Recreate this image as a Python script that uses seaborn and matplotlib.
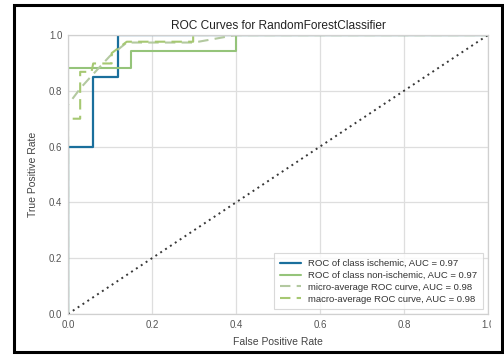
import numpy as np
import pandas as pd
import seaborn as sns
import matplotlib
matplotlib.use("Agg")
import matplotlib.pyplot as plt
from matplotlib.patches import Rectangle

# ---- data ----
isch_fpr = [0.0, 0.0, 0.059, 0.059, 0.118, 0.118, 1.0]
isch_tpr = [0.0, 0.60, 0.60, 0.85, 0.85, 1.0, 1.0]

non_fpr = [0.0, 0.0, 0.15, 0.15, 0.40, 0.40, 1.0]
non_tpr = [0.0, 0.882, 0.882, 0.941, 0.941, 1.0, 1.0]

micro_fpr = [0.0, 0.0, 0.03, 0.06, 0.10, 0.14, 0.30, 0.40, 1.0]
micro_tpr = [0.0, 0.75, 0.81, 0.86, 0.925, 0.973, 0.973, 1.0, 1.0]

macro_fpr = [0.0, 0.0, 0.029, 0.029, 0.056, 0.060, 0.104, 0.104, 0.14, 0.298, 0.298, 1.0]
macro_tpr = [0.0, 0.70, 0.70, 0.868, 0.868, 0.898, 0.898, 0.935, 0.976, 0.976, 1.0, 1.0]

labels = ["ROC of class ischemic, AUC = 0.97",
          "ROC of class non-ischemic, AUC = 0.97",
          "micro-average ROC curve, AUC = 0.98",
          "macro-average ROC curve, AUC = 0.98"]
ticks = [0.0, 0.2, 0.4, 0.6, 0.8, 1.0]

sns.set_theme(style="whitegrid")
plt.rcParams['font.family'] = ['Liberation Sans', 'DejaVu Sans']

fig = plt.figure(figsize=(5.04, 3.58), dpi=100)
ax = fig.add_axes([0.1349, 0.1229, 0.8333, 0.7793])

curves = [
    (isch_fpr, isch_tpr, labels[0], "#1a6f9c", "-", 1.6),
    (non_fpr, non_tpr, labels[1], "#95c47a", "-", 1.5),
    (micro_fpr, micro_tpr, labels[2], "#b3c9a0", (0, (5, 3)), 1.5),
    (macro_fpr, macro_tpr, labels[3], "#a6c872", (0, (5, 3)), 1.5),
]
for fx, fy, lab, col, ls, lw in curves:
    df = pd.DataFrame({"fpr": fx, "tpr": fy})
    sns.lineplot(data=df, x="fpr", y="tpr", ax=ax, sort=False, estimator=None,
                 color=col, linestyle=ls, linewidth=lw, label=lab)

diag = pd.DataFrame({"fpr": [0.0, 1.0], "tpr": [0.0, 1.0]})
sns.lineplot(data=diag, x="fpr", y="tpr", ax=ax, sort=False, estimator=None,
             color="#222222", linestyle=(0, (1, 2)), linewidth=1.4, alpha=0.9)

ax.set_xlim(0, 1)
ax.set_ylim(0, 1)
ax.set_xticks(ticks)
ax.set_yticks(ticks)
ax.set_xticklabels([f"{t:.1f}" for t in ticks])
ax.set_yticklabels([f"{t:.1f}" for t in ticks])
ax.tick_params(labelsize=7, colors="#555555", length=0, pad=4)
ax.set_xlabel("False Positive Rate", fontsize=7.5, color="#444444", labelpad=5)
ax.set_ylabel("True Positive Rate", fontsize=7.5, color="#444444", labelpad=8)
ax.set_title("ROC Curves for RandomForestClassifier", fontsize=8.6, color="#222222", pad=4)
ax.grid(True, color="#dedede", linewidth=0.9)
ax.set_facecolor("white")
for s in ax.spines.values():
    s.set_color("#d0d0d0")
    s.set_linewidth(0.9)

leg = ax.legend(loc="lower right", fontsize=6.8, frameon=True, fancybox=False,
                handlelength=2.2, borderpad=0.6, labelspacing=0.3)
leg.get_frame().set_edgecolor("#d0d0d0")
leg.get_frame().set_linewidth(0.8)
for t in leg.get_texts():
    t.set_color("#333333")

W, H = 504, 358
fig.patches.append(Rectangle((490.5 / W, 8 / H), 10 / W, 344 / H, transform=fig.transFigure,
                             facecolor="white", edgecolor="none", zorder=5))
fig.patches.append(Rectangle((14 / W, 6 / H), 488 / W, 347 / H, transform=fig.transFigure,
                             facecolor="none", edgecolor="black", linewidth=2.2, zorder=6))

fig.savefig("out.png", dpi=100, facecolor="white")
